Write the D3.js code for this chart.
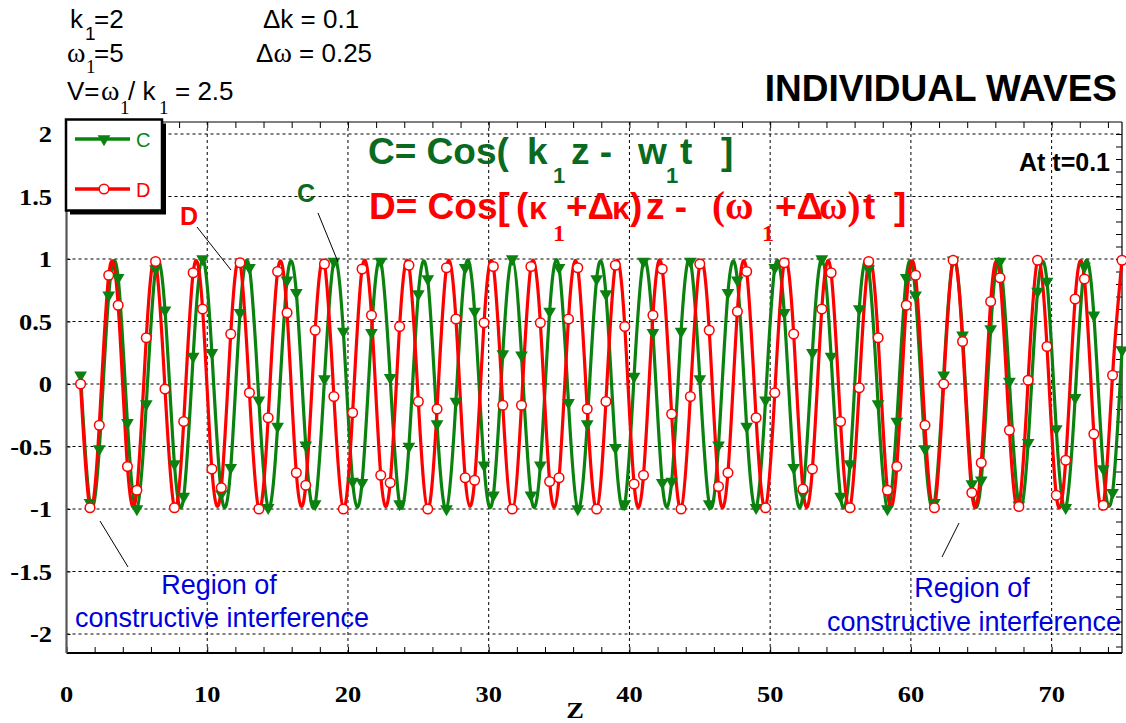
<!DOCTYPE html>
<html lang="en">
<head>
  <meta charset="UTF-8">
  <title>Individual Waves</title>
  <style>
    body { margin: 0; padding: 0; background: #ffffff; }
    svg { display: block; }
    .serif { font-family: "Liberation Serif", "Times New Roman", Tinos, "DejaVu Serif", serif; }
    .sans { font-family: "Liberation Sans", Arial, Arimo, "DejaVu Sans", sans-serif; }
  </style>
</head>
<body>
<div id="chart"></div>
<script src="https://d3js.org/d3.v7.min.js"></script>
<script>
  // sample positions along z
  const zValues = [1, 1.67, 2.33, 3, 3.67, 4.33, 5, 5.67, 6.33, 7, 7.67, 8.33, 9, 9.67, 10.33, 11,
    11.67, 12.33, 13, 13.67, 14.33, 15, 15.67, 16.33, 17, 17.67, 18.33, 19, 19.67, 20.33, 21,
    21.67, 22.33, 23, 23.67, 24.33, 25, 25.67, 26.33, 27, 27.67, 28.33, 29, 29.67, 30.33, 31,
    31.67, 32.33, 33, 33.67, 34.33, 35, 35.67, 36.33, 37, 37.67, 38.33, 39, 39.67, 40.33, 41,
    41.67, 42.33, 43, 43.67, 44.33, 45, 45.67, 46.33, 47, 47.67, 48.33, 49, 49.67, 50.33, 51,
    51.67, 52.33, 53, 53.67, 54.33, 55, 55.67, 56.33, 57, 57.67, 58.33, 59, 59.67, 60.33, 61,
    61.67, 62.33, 63, 63.67, 64.33, 65, 65.67, 66.33, 67, 67.67, 68.33, 69, 69.67, 70.33, 71,
    71.67, 72.33, 73, 73.67, 74.33, 75];

  // wave C
  const cValues = [0.07, -0.95, -0.52, 0.71, 0.85, -0.31, -1.00, -0.16, 0.92, 0.59, -0.64, -0.90,
    0.22, 1.00, 0.25, -0.88, -0.67, 0.57, 0.93, -0.13, -0.99, -0.34, 0.83, 0.73, -0.49, -0.96,
    0.04, 0.98, 0.42, -0.78, -0.79, 0.41, 0.98, 0.05, -0.96, -0.50, 0.72, 0.84, -0.32, -1.00,
    -0.14, 0.93, 0.58, -0.65, -0.89, 0.24, 1.00, 0.23, -0.89, -0.65, 0.58, 0.93, -0.15, -1.00,
    -0.32, 0.84, 0.72, -0.51, -0.96, 0.06, 0.98, 0.41, -0.79, -0.78, 0.42, 0.98, 0.04, -0.96,
    -0.49, 0.73, 0.83, -0.34, -0.99, -0.13, 0.93, 0.57, -0.67, -0.88, 0.25, 1.00, 0.22, -0.90,
    -0.64, 0.60, 0.92, -0.16, -1.00, -0.30, 0.85, 0.71, -0.52, -0.95, 0.07, 0.99, 0.39, -0.80,
    -0.77, 0.44, 0.98, 0.02, -0.97, -0.47, 0.74, 0.82, -0.36, -0.99, -0.11, 0.94, 0.55, -0.68,
    -0.87, 0.27];

  // wave D
  const dValues = [0.00, -0.99, -0.33, 0.87, 0.63, -0.66, -0.85, 0.37, 0.98, -0.04, -0.99, -0.30,
    0.89, 0.60, -0.68, -0.83, 0.40, 0.97, -0.07, -1.00, -0.27, 0.90, 0.57, -0.71, -0.81, 0.43,
    0.96, -0.10, -1.00, -0.23, 0.92, 0.55, -0.73, -0.79, 0.46, 0.95, -0.14, -1.00, -0.20, 0.93,
    0.52, -0.75, -0.77, 0.49, 0.94, -0.17, -1.00, -0.17, 0.94, 0.49, -0.78, -0.75, 0.52, 0.93,
    -0.20, -1.00, -0.14, 0.95, 0.46, -0.80, -0.73, 0.55, 0.92, -0.24, -1.00, -0.10, 0.96, 0.43,
    -0.82, -0.71, 0.58, 0.90, -0.27, -0.99, -0.07, 0.97, 0.40, -0.84, -0.68, 0.60, 0.89, -0.30,
    -0.99, -0.03, 0.98, 0.37, -0.85, -0.66, 0.63, 0.87, -0.33, -0.99, 0.00, 0.99, 0.34, -0.87,
    -0.63, 0.66, 0.85, -0.37, -0.98, 0.03, 0.99, 0.30, -0.89, -0.61, 0.68, 0.84, -0.40, -0.97,
    0.07, 0.99];

  const xTickLabels = [0, 10, 20, 30, 40, 50, 60, 70];
  const yTickLabels = [2, 1.5, 1, 0.5, 0, -0.5, -1, -1.5, -2];

  const GREEN = "#0b820f";
  const GREEN_TEXT = "#0a6a1f";
  const RED = "#ff0000";
  const BLUE = "#0000dd";

  const width = 1126, height = 723;
  const frame = { left: 66.5, right: 1122, top: 122, bottom: 653 };

  const svg = d3.select("#chart").append("svg")
    .attr("width", width)
    .attr("height", height);

  const x = d3.scaleLinear().domain([0, 75]).range([frame.left, frame.right]);
  const y = d3.scaleLinear().domain([-2, 2]).range([634, 134]);

  // small helper for text, sx stretches glyphs horizontally
  function txt(parent, px, py, str, o) {
    o = o || {};
    return parent.append("text")
      .attr("class", o.serif ? "serif" : "sans")
      .attr("transform", `translate(${px},${py})` + (o.sx ? ` scale(${o.sx},1)` : ""))
      .attr("font-size", o.size || 26)
      .attr("font-weight", o.weight || "normal")
      .attr("fill", o.fill || "#000")
      .attr("text-anchor", o.anchor || "start")
      .text(str);
  }

  // grid
  const grid = svg.append("g").attr("stroke", "#000").attr("stroke-width", 1).attr("stroke-dasharray", "3,3");
  grid.selectAll(".vg").data(xTickLabels.slice(1)).enter().append("line")
    .attr("x1", d => x(d)).attr("x2", d => x(d))
    .attr("y1", frame.top).attr("y2", frame.bottom);
  grid.selectAll(".hg").data(yTickLabels).enter().append("line")
    .attr("x1", frame.left).attr("x2", frame.right)
    .attr("y1", d => y(d)).attr("y2", d => y(d));

  // tick marks (inward)
  const xMinor = d3.range(0, 75, 2);
  const yMinor = d3.range(-21, 21).map(i => i / 10);
  function tickStyle(g) {
    g.select(".domain").remove();
    g.selectAll("line").attr("stroke", "#000").attr("stroke-width", 1);
  }
  svg.append("g").attr("transform", `translate(0,${frame.bottom})`)
    .call(d3.axisBottom(x).tickValues(xMinor).tickSize(-6).tickFormat(""))
    .call(tickStyle);
  svg.append("g").attr("transform", `translate(0,${frame.top})`)
    .call(d3.axisTop(x).tickValues(xMinor).tickSize(-6).tickFormat(""))
    .call(tickStyle);
  svg.append("g").attr("transform", `translate(${frame.right},0)`)
    .call(d3.axisRight(y).tickValues(yMinor).tickSize(-6).tickFormat(""))
    .call(tickStyle);
  svg.append("g").attr("transform", `translate(${frame.left},0)`)
    .call(d3.axisLeft(y).tickValues(yTickLabels).tickSize(-4).tickFormat(""))
    .call(tickStyle);

  // frame
  svg.append("line").attr("x1", frame.left).attr("x2", frame.right).attr("y1", frame.top).attr("y2", frame.top)
    .attr("stroke", "#000").attr("stroke-width", 1.2);
  svg.append("line").attr("x1", frame.right).attr("x2", frame.right).attr("y1", frame.top).attr("y2", frame.bottom)
    .attr("stroke", "#000").attr("stroke-width", 1.2);
  svg.append("line").attr("x1", frame.left).attr("x2", frame.right).attr("y1", frame.bottom).attr("y2", frame.bottom)
    .attr("stroke", "#000").attr("stroke-width", 1.8);
  svg.append("line").attr("x1", frame.left).attr("x2", frame.left).attr("y1", frame.top).attr("y2", frame.bottom)
    .attr("stroke", "#555").attr("stroke-width", 2.2);

  // tick labels
  xTickLabels.forEach(v => txt(svg, x(v), 702, String(v),
    { serif: true, weight: "bold", size: 23, sx: 1.15, anchor: "middle" }));
  yTickLabels.forEach(v => txt(svg, 52, y(v) + 8, String(v),
    { serif: true, weight: "bold", size: 23, sx: 1.15, anchor: "end" }));
  txt(svg, 575, 718, "Z", { serif: true, weight: "bold", size: 23, sx: 1.15, anchor: "middle" });

  // curves
  const line = d3.line()
    .x((d, i) => x(zValues[i]))
    .y(d => y(d))
    .curve(d3.curveNatural);

  svg.append("path").datum(cValues).attr("d", line)
    .attr("fill", "none").attr("stroke", GREEN).attr("stroke-width", 3.2);
  svg.append("path").datum(dValues).attr("d", line)
    .attr("fill", "none").attr("stroke", RED).attr("stroke-width", 3.2);

  const tri = d3.symbol().type(d3.symbolTriangle).size(70);
  svg.append("g").selectAll("path").data(cValues).enter().append("path")
    .attr("d", tri)
    .attr("transform", (d, i) => `translate(${x(zValues[i])},${y(d)}) rotate(180)`)
    .attr("fill", GREEN);
  svg.append("g").selectAll("circle").data(dValues).enter().append("circle")
    .attr("cx", (d, i) => x(zValues[i]))
    .attr("cy", d => y(d))
    .attr("r", 4.8)
    .attr("fill", "#fff").attr("stroke", RED).attr("stroke-width", 1.5);

  // legend
  svg.append("rect").attr("x", 70).attr("y", 123.5).attr("width", 96).attr("height", 91).attr("fill", "#000");
  svg.append("rect").attr("x", 66).attr("y", 119.5).attr("width", 96).attr("height", 91)
    .attr("fill", "#fff").attr("stroke", "#000").attr("stroke-width", 2.5);
  svg.append("line").attr("x1", 75).attr("x2", 130).attr("y1", 139).attr("y2", 139)
    .attr("stroke", GREEN).attr("stroke-width", 3.5);
  svg.append("path").attr("d", tri).attr("transform", "translate(104,139) rotate(180)").attr("fill", GREEN);
  txt(svg, 136, 147, "C", { size: 20, fill: GREEN });
  svg.append("line").attr("x1", 75).attr("x2", 130).attr("y1", 189).attr("y2", 189)
    .attr("stroke", RED).attr("stroke-width", 3.5);
  svg.append("circle").attr("cx", 104).attr("cy", 189).attr("r", 4.8)
    .attr("fill", "#fff").attr("stroke", RED).attr("stroke-width", 1.5);
  txt(svg, 136, 197, "D", { size: 20, fill: RED });

  // parameter block
  txt(svg, 70, 28, "k");
  txt(svg, 85, 40, "1", { size: 19 });
  txt(svg, 94, 28, "=2");
  txt(svg, 263, 28, "\u0394k = 0.1");
  txt(svg, 67, 62, "\u03c9", { serif: true, size: 28 });
  txt(svg, 86, 73, "1", { serif: true, size: 19 });
  txt(svg, 94, 62, "=5");
  const dw = txt(svg, 256, 62, "\u0394");
  dw.append("tspan").attr("class", "serif").attr("font-size", 28).text("\u03c9");
  dw.append("tspan").text(" = 0.25");
  txt(svg, 67, 100, "V=");
  txt(svg, 101, 100, "\u03c9", { serif: true, size: 28 });
  txt(svg, 120, 114, "1", { serif: true, size: 19 });
  txt(svg, 128, 100, "/ k");
  txt(svg, 159, 114, "1", { serif: true, size: 19 });
  txt(svg, 175, 100, "= 2.5");

  // titles
  txt(svg, 1117, 101, "INDIVIDUAL WAVES", { size: 37, weight: "bold", anchor: "end" });
  txt(svg, 1110, 171, "At t=0.1", { size: 25, weight: "bold", anchor: "end" });

  // formula C
  const fc = { size: 37, weight: "bold", fill: GREEN_TEXT };
  const fcSub = { size: 22, weight: "bold", fill: GREEN_TEXT };
  txt(svg, 368, 164, "C= Cos(", fc);
  txt(svg, 527, 164, "k", fc);
  txt(svg, 553, 183, "1", fcSub);
  txt(svg, 571, 164, "z -", fc);
  txt(svg, 638, 164, "w", fc);
  txt(svg, 666, 183, "1", fcSub);
  txt(svg, 680, 164, "t", fc);
  txt(svg, 721, 164, "]", fc);

  // formula D
  const fd = { size: 37, weight: "bold", fill: RED };
  const fdSerif = { size: 39, weight: "bold", fill: RED, serif: true };
  const fdSub = { size: 24, weight: "bold", fill: RED, serif: true };
  txt(svg, 369, 219, "D= Cos[", fd);
  txt(svg, 516, 219, "(", fd);
  txt(svg, 529, 219, "\u03ba", { size: 32, weight: "bold", fill: RED });
  txt(svg, 553, 241, "1", fdSub);
  txt(svg, 566, 219, "+\u0394", fd);
  txt(svg, 612, 219, "\u03ba", { size: 32, weight: "bold", fill: RED });
  txt(svg, 630, 219, ")", fd);
  txt(svg, 646, 219, "z -", fd);
  txt(svg, 712, 219, "(\u03c9", fdSerif);
  txt(svg, 762, 241, "1", fdSub);
  txt(svg, 775, 219, "+\u0394", fd);
  txt(svg, 819, 219, "\u03c9)", fdSerif);
  txt(svg, 863, 219, "t", fd);
  txt(svg, 894, 219, "]", fd);

  // annotations
  txt(svg, 180, 225, "D", { size: 25, weight: "bold", fill: RED });
  txt(svg, 297, 202, "C", { size: 25, weight: "bold", fill: GREEN_TEXT });
  const leaders = [[197, 227, 231, 270], [318, 213, 338, 262], [100, 521, 128, 567], [959, 523, 942, 557]];
  svg.append("g").selectAll("line").data(leaders).enter().append("line")
    .attr("x1", d => d[0]).attr("y1", d => d[1]).attr("x2", d => d[2]).attr("y2", d => d[3])
    .attr("stroke", "#000").attr("stroke-width", 1);

  txt(svg, 219, 594, "Region of", { size: 27, fill: BLUE, anchor: "middle" });
  txt(svg, 222, 627, "constructive interference", { size: 27, fill: BLUE, anchor: "middle" });
  txt(svg, 972, 597, "Region of", { size: 27, fill: BLUE, anchor: "middle" });
  txt(svg, 974, 631, "constructive interference", { size: 27, fill: BLUE, anchor: "middle" });
</script>
</body>
</html>
